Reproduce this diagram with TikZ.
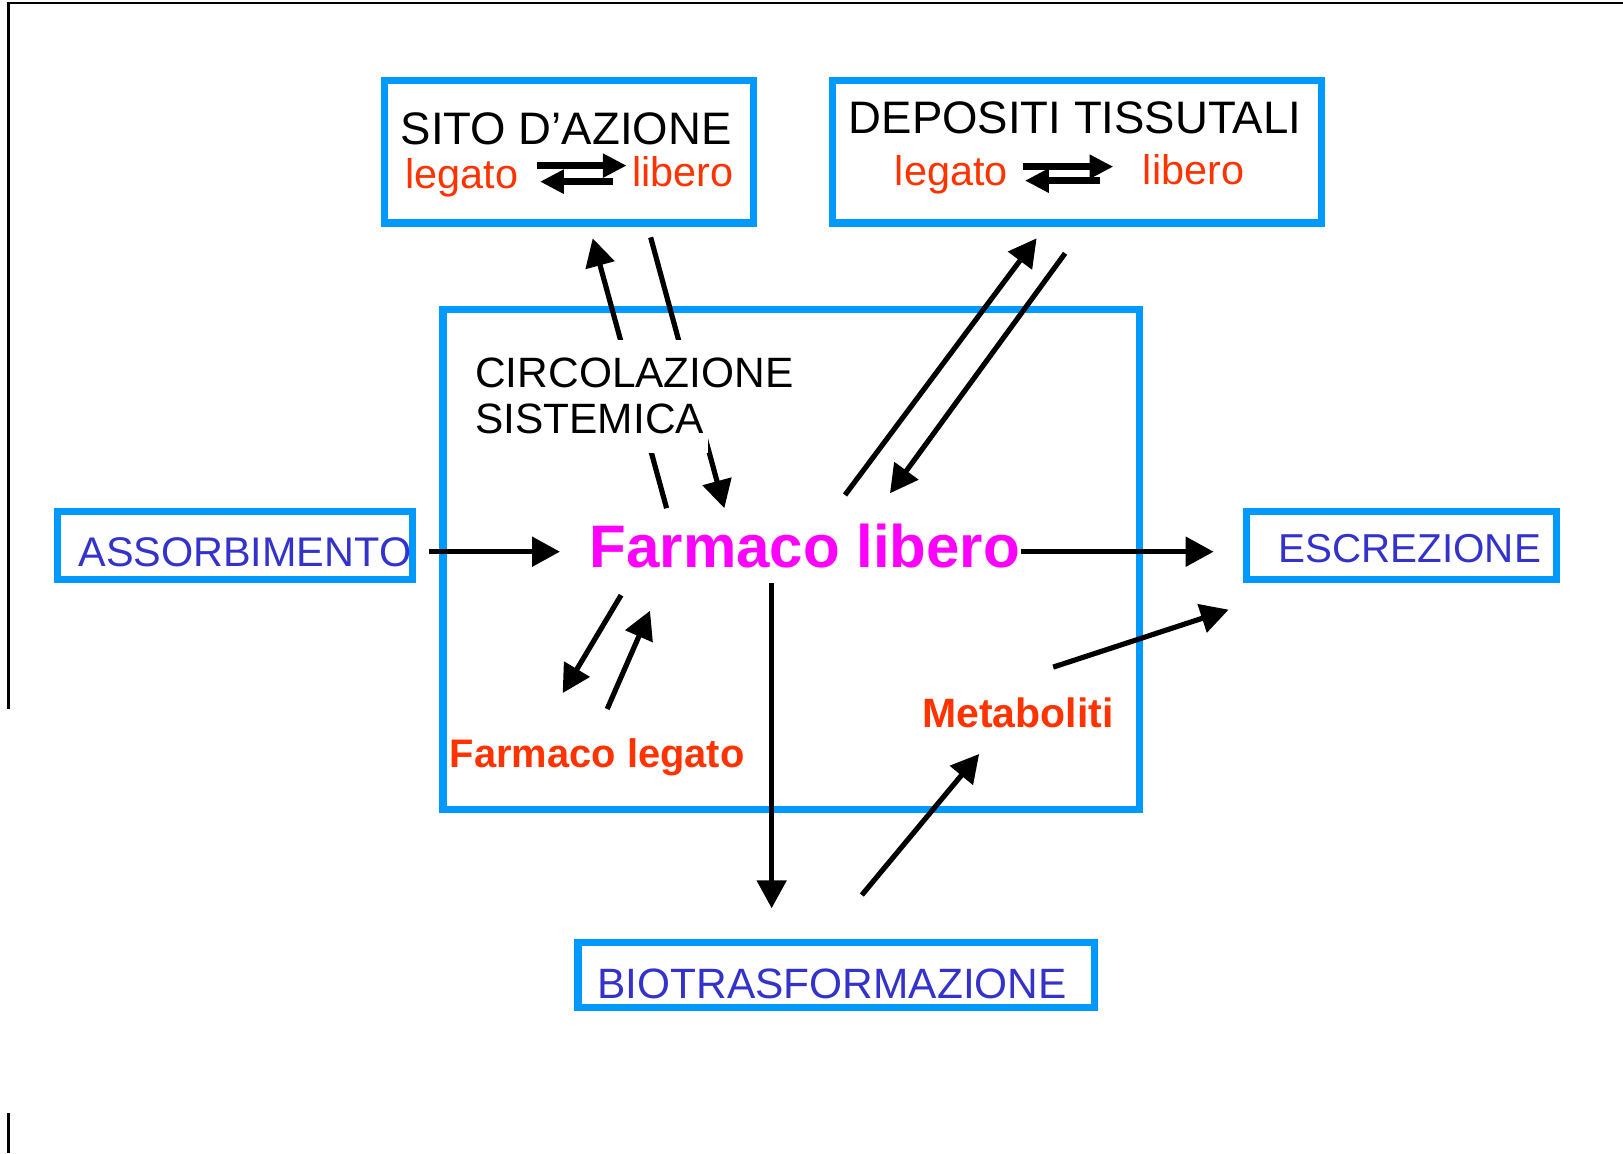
\documentclass[tikz,border=0pt]{standalone}
\usepackage{fontspec}
\setmainfont{Liberation Sans}
\usetikzlibrary{arrows.meta}
\definecolor{boxblue}{RGB}{0,153,255}
\definecolor{lblue}{RGB}{51,51,204}
\definecolor{lred}{RGB}{255,51,0}
\definecolor{lmag}{RGB}{255,0,255}
\begin{document}
\begin{tikzpicture}[x=1pt,y=-1pt,
  bluebox/.style={draw=boxblue,line width=7pt,rectangle,inner sep=0pt,outer sep=0pt},
  flow/.style={line width=5pt,-{Triangle[length=27pt,width=28pt]}},
  eqarrow/.style={line width=6.5pt,-{Triangle[length=23pt,width=22pt]}},
  blacklbl/.style={text=black,inner sep=0pt,font=\fontsize{44}{50}\selectfont},
  redlbl/.style={text=lred,inner sep=0pt,font=\fontsize{40}{46}\selectfont},
  bluelbl/.style={text=lblue,inner sep=0pt,font=\fontsize{40}{46}\selectfont},
  redbold/.style={text=lred,inner sep=0pt,font=\bfseries\fontsize{38.5}{44}\selectfont},
  framel/.style={line width=2.5pt,draw=black}
]
\useasboundingbox (0,0) rectangle (1568,1114);

% page frame
\coordinate (ftl) at (8,3);
\coordinate (ftr) at (1568,3);
\coordinate (fl1) at (8,685);
\coordinate (fl2) at (8,1075);
\coordinate (fl3) at (8,1114);
\draw[framel] (ftr) -- (ftl) -- (fl1);
\draw[framel] (fl2) -- (fl3);

% boxes
\node[bluebox,minimum width=356.6pt,minimum height=137.5pt] (sito) at (549.7,146.7) {};
\node[bluebox,minimum width=472.7pt,minimum height=137.3pt] (depo) at (1040.3,146.7) {};
\node[bluebox,minimum width=673pt,minimum height=483pt] (circ) at (764.5,540.5) {};
\node[bluebox,minimum width=343pt,minimum height=65pt] (assbox) at (227,527) {};
\node[bluebox,minimum width=299pt,minimum height=65pt] (escbox) at (1354,527) {};
\node[bluebox,minimum width=499pt,minimum height=63pt] (biobox) at (808,942) {};

% box texts
\node[blacklbl,anchor=base] (sitot) at (547,140) {SITO D'AZIONE};
\node[redlbl,anchor=base] (sitoleg) at (446,182) {legato};
\node[redlbl,anchor=base] (sitolib) at (660,180) {libero};
\node[blacklbl,anchor=base] (depot) at (1038.5,129) {DEPOSITI TISSUTALI};
\node[redlbl,anchor=base] (depoleg) at (919,179) {legato};
\node[redlbl,anchor=base] (depolib) at (1153,178) {libero};

% equilibrium arrows
\coordinate (s1a) at (518.5,160);
\coordinate (s1b) at (605.4,160);
\coordinate (s2a) at (592.5,175.5);
\coordinate (s2b) at (521.7,175.5);
\draw[eqarrow] (s1a) -- (s1b);
\draw[eqarrow] (s2a) -- (s2b);
\coordinate (d1a) at (988.6,161);
\coordinate (d1b) at (1075.6,161);
\coordinate (d2a) at (1062.7,174.5);
\coordinate (d2b) at (990.2,174.5);
\draw[eqarrow] (d1a) -- (d1b);
\draw[eqarrow] (d2a) -- (d2b);

% arrows between circulation and sito
\coordinate (upA) at (644,491);
\coordinate (upB) at (572.6,230.2);
\coordinate (dnA) at (628.6,229.3);
\coordinate (dnB) at (699.8,491);
\draw[flow] (upA) -- (upB);
\draw[flow] (dnA) -- (dnB);

% circulation label (white background hides arrows)
\node[blacklbl,font=\fontsize{41}{46}\selectfont,anchor=base west,fill=white,
      inner xsep=4pt,inner ysep=6pt,text height=40pt,text depth=8pt] (circ1) at (455,374) {CIRCOLAZIONE};
\node[blacklbl,font=\fontsize{41}{46}\selectfont,anchor=base west,fill=white,
      inner xsep=4pt,inner ysep=6pt,text height=25pt,text depth=13pt] (circ2) at (455,419) {SISTEMICA};

% depositi arrows
\coordinate (pA) at (816.4,478.2);
\coordinate (pB) at (1001.5,230.2);
\coordinate (qA) at (1029,244.7);
\coordinate (qB) at (859.8,476.6);
\draw[flow] (pA) -- (pB);
\draw[flow] (qA) -- (qB);

% central labels
\node[text=lmag,inner sep=0pt,font=\bfseries\fontsize{58}{64}\selectfont,anchor=base] (flib) at (777.5,548) {Farmaco libero};
\node[bluelbl,anchor=base] (asst) at (236.5,547) {ASSORBIMENTO};
\node[bluelbl,font=\fontsize{39}{46}\selectfont,anchor=base] (esct) at (1362,543) {ESCREZIONE};
\node[bluelbl,font=\fontsize{41}{46}\selectfont,anchor=base] (biot) at (804,965) {BIOTRASFORMAZIONE};
\node[redbold,anchor=base] (fleg) at (577,741) {Farmaco legato};
\node[redbold,font=\bfseries\fontsize{39.6}{44}\selectfont,anchor=base] (meta) at (983.5,703) {Metaboliti};

% horizontal flows
\coordinate (aA) at (414,533);
\coordinate (aB) at (541,533);
\draw[flow] (aA) -- (aB);
\coordinate (eA) at (986,533);
\coordinate (eB) at (1172.5,533);
\draw[flow] (eA) -- (eB);

% bound drug
\coordinate (lA) at (600,575);
\coordinate (lB) at (543.6,669.6);
\coordinate (rA) at (586.6,685);
\coordinate (rB) at (628,590);
\draw[flow] (lA) -- (lB);
\draw[flow] (rA) -- (rB);

% biotransformation
\coordinate (vA) at (745.5,563);
\coordinate (vB) at (745.5,877.5);
\draw[flow] (vA) -- (vB);
\coordinate (mA) at (832.6,864.7);
\coordinate (mB) at (946,728.4);
\draw[flow] (mA) -- (mB);
\coordinate (xA) at (1017.5,644.5);
\coordinate (xB) at (1187,589);
\draw[flow] (xA) -- (xB);
\end{tikzpicture}
\end{document}
